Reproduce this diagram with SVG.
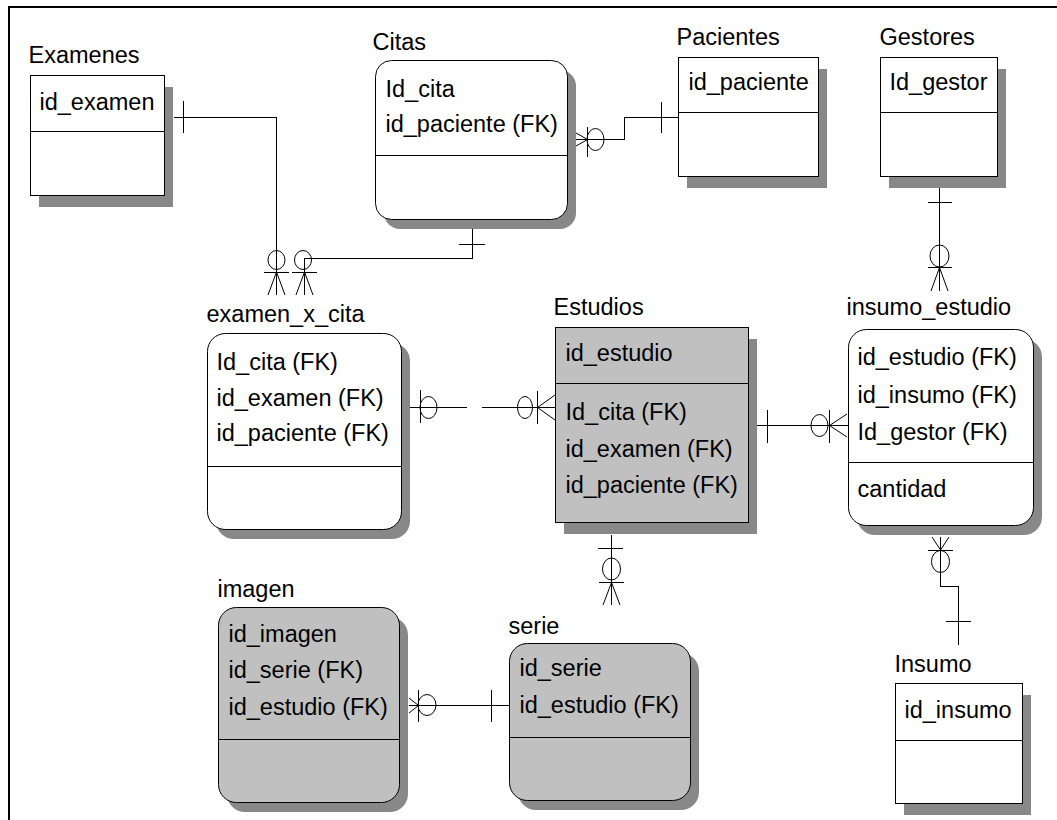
<svg xmlns="http://www.w3.org/2000/svg" width="1057" height="820" viewBox="0 0 1057 820">
  <style>
    .frame{fill:none;stroke:#000;stroke-width:2}
    .sh{fill:#888888}
    .box{fill:#fff;stroke:#000;stroke-width:1}
    .dep{fill:#c0c0c0}
    .div{stroke:#000;stroke-width:1;shape-rendering:crispEdges}
    text{font-family:"Liberation Sans",Arial,sans-serif;font-size:23.5px;fill:#000}
    .ln{fill:none;stroke:#000;stroke-width:1}
    .sq{shape-rendering:crispEdges}
    .ov{fill:none;stroke:#000;stroke-width:1}
  </style>
  <rect width="1057" height="820" fill="#fff"/>
  <path class="frame" d="M9,820 V7 H1057"/>

  <!-- entities -->
  <g id="examenes">
    <rect class="sh" x="39" y="87" width="134" height="120"/>
    <rect class="box" x="30.5" y="75.5" width="134" height="120"/>
    <line class="div" x1="30" y1="131.5" x2="165" y2="131.5"/>
    <text x="28.5" y="63">Examenes</text>
    <text x="39.5" y="110">id_examen</text>
  </g>

  <g id="citas">
    <rect class="sh" x="384" y="70" width="192" height="159" rx="16"/>
    <rect class="box" x="375.5" y="60.5" width="192" height="159" rx="16"/>
    <line class="div" x1="375" y1="155.5" x2="568" y2="155.5"/>
    <text x="372.5" y="50">Citas</text>
    <text x="385.5" y="97">Id_cita</text>
    <text x="385.5" y="132">id_paciente (FK)</text>
  </g>

  <g id="pacientes">
    <rect class="sh" x="687" y="69" width="140" height="119"/>
    <rect class="box" x="678.5" y="57.5" width="140" height="119"/>
    <line class="div" x1="678" y1="112.5" x2="819" y2="112.5"/>
    <text x="676.5" y="45">Pacientes</text>
    <text x="688.5" y="90">id_paciente</text>
  </g>

  <g id="gestores">
    <rect class="sh" x="889" y="69" width="117" height="119"/>
    <rect class="box" x="880.5" y="57.5" width="117" height="119"/>
    <line class="div" x1="880" y1="112.5" x2="998" y2="112.5"/>
    <text x="879.5" y="45">Gestores</text>
    <text x="889.5" y="90">Id_gestor</text>
  </g>

  <g id="examen_x_cita">
    <rect class="sh" x="216" y="343" width="194" height="196" rx="18"/>
    <rect class="box" x="207.5" y="333.5" width="194" height="196" rx="18"/>
    <line class="div" x1="207" y1="466.5" x2="402" y2="466.5"/>
    <text x="206.5" y="322">examen_x_cita</text>
    <text x="216.5" y="370">Id_cita (FK)</text>
    <text x="216.5" y="406">id_examen (FK)</text>
    <text x="216.5" y="441">id_paciente (FK)</text>
  </g>

  <g id="estudios">
    <rect class="sh" x="564" y="339" width="193" height="195"/>
    <rect class="box dep" x="555.5" y="327.5" width="193" height="195"/>
    <line class="div" x1="555" y1="383.5" x2="749" y2="383.5"/>
    <text x="553.5" y="315">Estudios</text>
    <text x="565.5" y="361">id_estudio</text>
    <text x="565.5" y="420">Id_cita (FK)</text>
    <text x="565.5" y="457">id_examen (FK)</text>
    <text x="565.5" y="493">id_paciente (FK)</text>
  </g>

  <g id="insumo_estudio">
    <rect class="sh" x="857" y="339" width="185" height="196" rx="18"/>
    <rect class="box" x="848.5" y="329.5" width="185" height="196" rx="18"/>
    <line class="div" x1="848" y1="462.5" x2="1034" y2="462.5"/>
    <text x="846.5" y="315">insumo_estudio</text>
    <text x="857.5" y="365">id_estudio (FK)</text>
    <text x="857.5" y="403">id_insumo (FK)</text>
    <text x="857.5" y="440">Id_gestor (FK)</text>
    <text x="857.5" y="497">cantidad</text>
  </g>

  <g id="imagen">
    <rect class="sh" x="227" y="617" width="181" height="195" rx="18"/>
    <rect class="box dep" x="218.5" y="607.5" width="181" height="195" rx="18"/>
    <line class="div" x1="218" y1="739.5" x2="400" y2="739.5"/>
    <text x="217.5" y="597">imagen</text>
    <text x="228.5" y="642">id_imagen</text>
    <text x="228.5" y="678">id_serie (FK)</text>
    <text x="228.5" y="715">id_estudio (FK)</text>
  </g>

  <g id="serie">
    <rect class="sh" x="518" y="653" width="181" height="157" rx="18"/>
    <rect class="box dep" x="509.5" y="643.5" width="181" height="157" rx="18"/>
    <line class="div" x1="509" y1="737.5" x2="691" y2="737.5"/>
    <text x="508.5" y="634">serie</text>
    <text x="519.5" y="676">id_serie</text>
    <text x="519.5" y="713">id_estudio (FK)</text>
  </g>

  <g id="insumo">
    <rect class="sh" x="904" y="695" width="127" height="120"/>
    <rect class="box" x="895.5" y="683.5" width="127" height="120"/>
    <line class="div" x1="895" y1="740.5" x2="1023" y2="740.5"/>
    <text x="894.5" y="672">Insumo</text>
    <text x="904.5" y="718">id_insumo</text>
  </g>

  <!-- relationships -->
  <g id="connectors">
    <!-- Examenes : examen_x_cita -->
    <g>
      <path class="ln sq" d="M174,117.5 H276.5 V295 M183.5,101 V133 M264,272.5 H289"/>
      <path class="ln" d="M276.5,272 L268,295 M276.5,272 L285,295"/>
      <ellipse class="ov" cx="276.5" cy="260" rx="8.5" ry="9.5"/>
    </g>
    <!-- Citas : examen_x_cita -->
    <g>
      <path class="ln sq" d="M472.5,229 V258.5 H304.5 V295 M459,244.5 H485 M292,272.5 H317"/>
      <path class="ln" d="M304.5,272 L296,295 M304.5,272 L313,295"/>
      <ellipse class="ov" cx="303" cy="260" rx="8.5" ry="9.5"/>
    </g>
    <!-- Pacientes : Citas -->
    <g>
      <path class="ln sq" d="M576,139.5 H624.5 V117.5 H678 M587.5,127 V157 M661.5,102 V133"/>
      <path class="ln" d="M576,133 L587.5,139.5 L576,146"/>
      <ellipse class="ov" cx="595.5" cy="139.5" rx="8.5" ry="11"/>
    </g>
    <!-- examen_x_cita : Estudios -->
    <g>
      <path class="ln sq" d="M410,407.5 H467 M482,407.5 H555 M420.5,390 V423 M537.5,391 V424"/>
      <path class="ln" d="M555,395 L537.5,407.5 L555,420"/>
      <ellipse class="ov" cx="428.5" cy="407.5" rx="8.5" ry="11"/>
      <ellipse class="ov" cx="525" cy="407.5" rx="7.5" ry="11"/>
    </g>
    <!-- Estudios : insumo_estudio -->
    <g>
      <path class="ln sq" d="M757,425.5 H848 M767.5,410 V443 M829.5,410 V443"/>
      <path class="ln" d="M847,414 L829.5,425.5 L847,437"/>
      <ellipse class="ov" cx="819.5" cy="425.5" rx="8.5" ry="11"/>
    </g>
    <!-- Gestores : insumo_estudio -->
    <g>
      <path class="ln sq" d="M939.5,188 V291 M928,202.5 H952 M928,267.5 H952"/>
      <path class="ln" d="M931,291 L939.5,267.5 L948,291"/>
      <ellipse class="ov" cx="939.5" cy="256" rx="9.5" ry="11"/>
    </g>
    <!-- Estudios : serie -->
    <g>
      <path class="ln sq" d="M611.5,535 V605 M598,548.5 H623 M599,582.5 H624"/>
      <path class="ln" d="M603,605 L611.5,582.5 L620,605"/>
      <ellipse class="ov" cx="611.5" cy="569" rx="9" ry="11"/>
    </g>
    <!-- Insumo : insumo_estudio -->
    <g>
      <path class="ln sq" d="M940.5,537 V586.5 H958.5 V645 M928,550.5 H953 M946,621.5 H971"/>
      <path class="ln" d="M932,537 L940.5,550 L949,537"/>
      <ellipse class="ov" cx="940.5" cy="561.5" rx="9" ry="11"/>
    </g>
    <!-- serie : imagen -->
    <g>
      <path class="ln sq" d="M409,705.5 H509 M418.5,690 V722 M491.5,690 V722"/>
      <path class="ln" d="M409,698 L418.5,705.5 L409,713"/>
      <ellipse class="ov" cx="427" cy="705" rx="9" ry="10.5"/>
    </g>
  </g>
</svg>
